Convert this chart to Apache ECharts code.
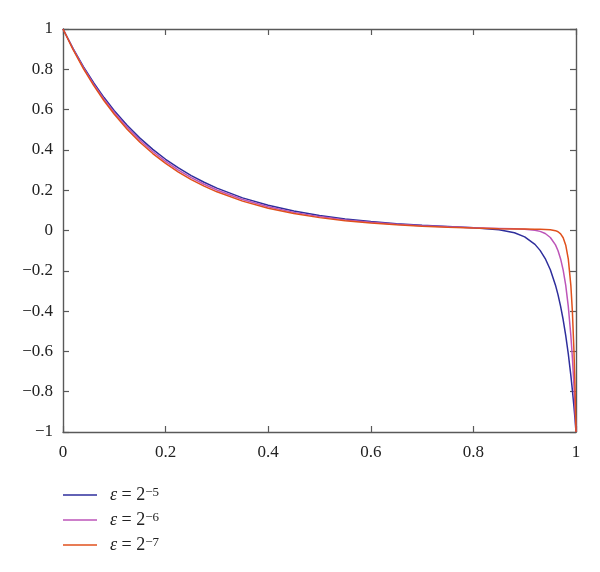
<!DOCTYPE html>
<html>
<head>
<meta charset="utf-8">
<script src="https://cdn.jsdelivr.net/npm/echarts@6/dist/echarts.min.js"></script>
<style>html,body{margin:0;padding:0;background:#fff}#c{width:600px;height:572px}</style>
</head>
<body>
<div id="c"></div>
<script>
var xs = [0,0.02,0.04,0.06,0.08,0.1,0.125,0.15,0.175,0.2,0.225,0.25,0.275,0.3,0.35,0.4,0.45,0.5,0.55,0.6,0.65,0.7,0.75,0.8,0.85,0.88,0.9,0.92,0.93,0.94,0.95,0.96,0.965,0.97,0.975,0.98,0.985,0.99,0.993,0.996,0.998,1];
var eps5 = [1,0.9012,0.8122,0.7320,0.6597,0.5945,0.5220,0.4584,0.4025,0.3535,0.3104,0.2725,0.2393,0.2101,0.1620,0.1249,0.0963,0.0743,0.0573,0.0442,0.0340,0.0263,0.0199,0.0139,0.0038,-0.0112,-0.0315,-0.0689,-0.0986,-0.1391,-0.1948,-0.2712,-0.3197,-0.3765,-0.4430,-0.5212,-0.6128,-0.7203,-0.7936,-0.8743,-0.9324,-1];
var eps6 = [1,0.8985,0.8073,0.7254,0.6518,0.5857,0.5124,0.4482,0.3921,0.3430,0.3001,0.2625,0.2297,0.2009,0.1538,0.1177,0.0900,0.0689,0.0527,0.0404,0.0309,0.0236,0.0181,0.0138,0.0105,0.0086,0.0064,0.0013,-0.0044,-0.0150,-0.0346,-0.0714,-0.1008,-0.1410,-0.1965,-0.2727,-0.3777,-0.5223,-0.6340,-0.7693,-0.8751,-1];
var eps7 = [1,0.8958,0.8025,0.7189,0.6440,0.5769,0.5028,0.4382,0.3819,0.3329,0.2901,0.2528,0.2204,0.1920,0.1459,0.1108,0.0842,0.0639,0.0486,0.0369,0.0280,0.0213,0.0162,0.0123,0.0093,0.0079,0.0071,0.0063,0.0059,0.0052,0.0037,-0.0009,-0.0064,-0.0167,-0.0361,-0.0727,-0.1422,-0.2737,-0.4040,-0.5951,-0.7700,-1];
var seriesNames = ['e5','e6','e7'];
var seriesExp = ['−5','−6','−7'];
var colors = ['#2e2e9c','#bd55b8','#e0501c'];

function pairs(ys){ return xs.map(function(x,i){return [x, ys[i]];}); }
var all = [eps5, eps6, eps7];
var font = 'Liberation Serif';
var axisCol = '#595959';
function fmt(v){ var s = String(Math.round(v*10)/10); return s.replace('-', '−'); }

var chart = echarts.init(document.getElementById('c'));
var series = all.map(function(ys,i){
  return {name: seriesNames[i], type:'line', data: pairs(ys), showSymbol:false, symbol:'none',
    lineStyle:{color:colors[i], width:1.5}, itemStyle:{color:colors[i]}, z: 2+i, animation:false};
});
var axBase = {
  axisLine:{show:true, onZero:false, lineStyle:{color:axisCol, width:1.4}},
  axisTick:{show:true, inside:true, length:6, lineStyle:{color:axisCol, width:1.2}},
  splitLine:{show:false}
};
chart.setOption({
  animation:false,
  backgroundColor:'#fff',
  grid:{left:63, right:24, top:29, bottom:140, containLabel:false},
  xAxis:[
    Object.assign({type:'value', min:0, max:1, interval:0.2, position:'bottom',
      axisLabel:{margin:12, color:'#222', fontFamily:font, fontSize:17, formatter:fmt}}, axBase),
    Object.assign({type:'value', min:0, max:1, interval:0.2, position:'top',
      axisLabel:{show:false}}, axBase)
  ],
  yAxis:[
    Object.assign({type:'value', min:-1, max:1, interval:0.2, position:'left',
      axisLabel:{margin:10, color:'#222', fontFamily:font, fontSize:17, formatter:fmt}}, axBase),
    Object.assign({type:'value', min:-1, max:1, interval:0.2, position:'right',
      axisLabel:{show:false}}, axBase)
  ],
  legend:{
    orient:'vertical', left:63, top:486, height:85, padding:0, itemWidth:34, itemHeight:1.6, itemGap:5,
    icon:'rect',
    data: seriesNames,
    formatter:function(n){ var i = seriesNames.indexOf(n); return '{e|ε} {t|= 2}{s|'+seriesExp[i]+'}'; },
    textStyle:{fontFamily:font, fontSize:18, lineHeight:18, color:'#222', padding:[0,0,0,8],
      rich:{e:{fontFamily:font, fontSize:18, lineHeight:18, fontStyle:'italic', color:'#222'},
            t:{fontFamily:font, fontSize:18, lineHeight:18, color:'#222'},
            s:{fontFamily:font, fontSize:13, lineHeight:18, color:'#222', verticalAlign:'top', padding:[0,0,7,0]}}}
  },
  series: series
});
</script>
</body>
</html>
